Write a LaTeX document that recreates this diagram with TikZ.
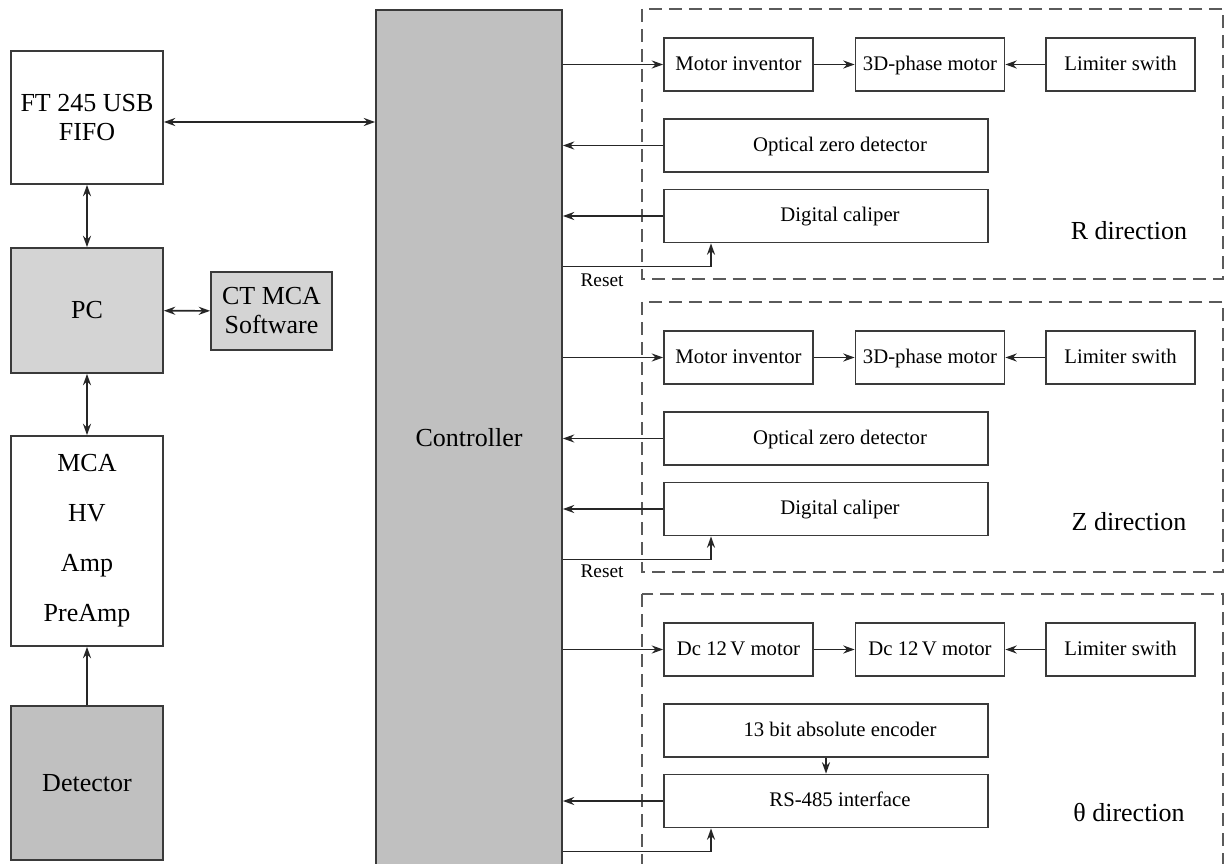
\documentclass[tikz,border=0pt]{standalone}
\usepackage{fontspec}
\setmainfont{Liberation Serif}
\usepackage{xcolor}
\usepackage{tikz}
\usetikzlibrary{arrows.meta,positioning,calc}
\definecolor{boxline}{HTML}{3A3A3A}
\definecolor{pcgray}{HTML}{D4D4D4}
\definecolor{ctrlgray}{HTML}{C0C0C0}
\definecolor{dashgray}{HTML}{5A5A5A}
\newcommand{\bigtxt}{\fontsize{14.8}{16.5}\selectfont}
\newcommand{\smalltxt}{\fontsize{11.8}{14}\selectfont}

\begin{document}
\begin{tikzpicture}[x=0.02cm,y=-0.02cm,
   blk/.style={draw=boxline,line width=1pt,fill=#1,inner sep=0pt,font=\bigtxt,align=center,minimum width=3.04cm},
   blk/.default=white,
   unitbox/.style={draw=boxline,line width=1pt,fill=white,inner sep=0pt,font=\smalltxt,
     text height=0.9em,text depth=0.24em,minimum width=2.98cm,minimum height=1.06cm},
   widebox/.style={unitbox,minimum width=6.48cm,execute at begin node={\hspace*{0.56cm}}},
   wire/.style={draw=black!85,line width=0.9pt,-{Stealth[length=6.5pt,width=4.6pt]}},
   biwire/.style={wire,{Stealth[length=6.5pt,width=4.6pt]}-{Stealth[length=6.5pt,width=4.6pt]}},
   dashframe/.style={draw=dashgray,line width=0.9pt,dash pattern=on 7.4pt off 4pt}]
  \useasboundingbox (0,0) rectangle (1226,864);
  % Left column
  \node[blk] (ft) at (87,117.5) [minimum height=2.66cm] {FT 245 USB\\FIFO};
  \node[blk=pcgray] (pc) at (87,310.5) [minimum height=2.5cm] {PC};
  \node[blk=pcgray,minimum width=2.42cm,minimum height=1.56cm] (ct) at (271.5,311) {CT MCA\\Software};
  \node[blk,font=\fontsize{14.8}{28.5}\selectfont] (mca) at (87,541) [minimum height=4.2cm] {MCA\\HV\\Amp\\PreAmp};
  \node[blk=ctrlgray] (det) at (87,783) [minimum height=3.08cm] {Detector};
  % Controller
  \node[blk=ctrlgray,minimum width=3.72cm,minimum height=17.12cm] (ctrl) at (469,438) {Controller};
  \coordinate (usb) at ($(ft.east)+(0,4.5)$);
  \draw[biwire] (usb) -- (usb -| ctrl.west);
  \draw[biwire] (ft) -- (pc);
  \draw[biwire] (pc) -- (ct);
  \draw[biwire] (pc) -- (mca);
  \draw[wire] (det) -- (mca);
  % Motor rows and frames
  \foreach \s/\off/\fb/\ma/\mb in {R/0/279/Motor inventor/3D-phase motor,
      Z/293/572/Motor inventor/3D-phase motor,
      T/585/890/Dc 12\,V motor/Dc 12\,V motor}{
    \draw[dashframe] (642,9+\off) rectangle (1223,\fb);
    \node[unitbox] (ma\s) at (738.5,64.5+\off) {\ma};
    \node[unitbox] (mb\s) at (930,64.5+\off) {\mb};
    \node[unitbox] (ls\s) at (1120.5,64.5+\off) {Limiter swith};
    \draw[wire] (ma\s.west -| ctrl.east) -- (ma\s);
    \draw[wire] (ma\s) -- (mb\s);
    \draw[wire] (ls\s) -- (mb\s);
  }
  % Sensor boxes
  \foreach \s/\off/\ta/\tb in {R/0/Optical zero detector/Digital caliper,
      Z/293/Optical zero detector/Digital caliper,
      T/585/13 bit absolute encoder/RS-485 interface}{
    \node[widebox] (ua\s) at (826,145.5+\off) {\ta};
    \node[widebox] (ub\s) at (826,216+\off) {\tb};
    \coordinate (rs\s) at (711,266.5+\off);
    \draw[wire] (ub\s) -- (ub\s.west -| ctrl.east);
    \draw[wire] (rs\s -| ctrl.east) -- (rs\s) -- (rs\s |- ub\s.south);
  }
  \foreach \s in {R,Z}
    \draw[wire] (ua\s) -- (ua\s.west -| ctrl.east);
  \draw[wire] (uaT) -- (ubT);
  % Labels
  \node[font=\fontsize{11}{13}\selectfont] (resetR) at (602,280) {Reset};
  \node[font=\fontsize{11}{13}\selectfont] (resetZ) at (602,571) {Reset};
  \node[font=\bigtxt] (dirR) at (1129,231) {R direction};
  \node[font=\bigtxt] (dirZ) at (1129,522) {Z direction};
  \node[font=\bigtxt] (dirT) at (1129,813) {θ direction};
\end{tikzpicture}
\end{document}
